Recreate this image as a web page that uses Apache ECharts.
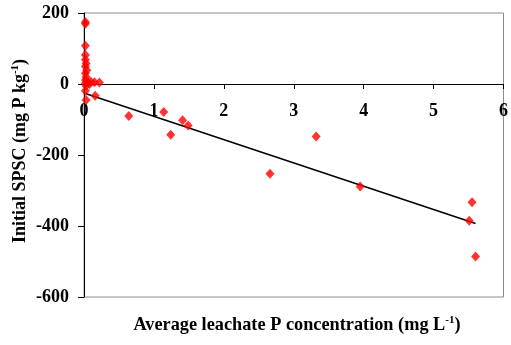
<!DOCTYPE html>
<html><head><meta charset="utf-8">
<script src="https://cdn.jsdelivr.net/npm/echarts@6/dist/echarts.min.js"></script>
<style>html,body{margin:0;padding:0;background:#fff}#c{width:511px;height:345px}</style>
</head><body><div id="c"></div>
<script>
// Observations: average leachate P (mg/L) vs initial SPSC (mg P/kg)
const leachateP = [0.02,0.02,0.02,0.02,0.02,0.03,0.02,0.04,0.02,0.03,0.02,0.05,0.10,0.15,0.22,0.02,0.03,0.02,0.16,0.03,0.08,
                   0.64,1.14,1.24,1.41,1.49,2.66,3.32,3.95,5.55,5.51,5.60];
const initialSPSC = [175,170,108,82,68,58,49,39,30,20,11,6,6,5,4,2,-5,-19,-33,-45,0,
                   -90,-79,-143,-102,-117,-253,-148,-289,-333,-385,-486];
// Fitted trend line end points
const trendX = [0.02, 5.60];
const trendY = [-27, -393];
const xTicks = [0,1,2,3,4,5,6];
const yTicks = [-600,-400,-200,0,200];

const FONT = '"Liberation Serif","Times New Roman",serif';
const GRID = {left:84,right:2,top:13,bottom:48};
const H = 345;
const plotH = H - GRID.top - GRID.bottom;
const yMin = yTicks[0], yMax = yTicks[yTicks.length-1];
// place x axis on the y=0 line
const zeroOffset = -plotH * (0 - yMin) / (yMax - yMin);

const chart = echarts.init(document.getElementById('c'));
chart.setOption({
  animation:false,
  backgroundColor:'#fff',
  grid:Object.assign({show:true,borderColor:'#8c8c8c',borderWidth:1,backgroundColor:'transparent'},GRID),
  xAxis:{type:'value',min:xTicks[0],max:xTicks[xTicks.length-1],interval:1,position:'bottom',offset:zeroOffset,
    axisLine:{onZero:false,lineStyle:{color:'#000',width:1}},
    axisTick:{show:true,inside:false,length:5,lineStyle:{color:'#000'}},
    splitLine:{show:false},
    axisLabel:{margin:18,color:'#000',fontFamily:FONT,fontWeight:'bold',fontSize:18}},
  yAxis:{type:'value',min:yMin,max:yMax,interval:200,
    axisLine:{onZero:false,lineStyle:{color:'#000',width:1}},
    axisTick:{show:true,inside:false,length:6,lineStyle:{color:'#000'}},
    splitLine:{show:false},
    axisLabel:{margin:15,color:'#000',fontFamily:FONT,fontWeight:'bold',fontSize:18}},
  graphic:[
    {type:'text',x:297,y:325,style:{
      text:'Average leachate P concentration (mg L{sup|-1})',
      fill:'#000',font:'bold 18.3px '+FONT,align:'center',verticalAlign:'middle',
      rich:{sup:{fontSize:11,fontFamily:FONT,fontWeight:'bold',fill:'#000',verticalAlign:'top',padding:[0,0,9,0]}}}},
    {type:'text',x:20,y:151,rotation:Math.PI/2,style:{
      text:'Initial SPSC (mg P kg{sup|-1})',
      fill:'#000',font:'bold 18px '+FONT,align:'center',verticalAlign:'middle',
      rich:{sup:{fontSize:11,fontFamily:FONT,fontWeight:'bold',fill:'#000',verticalAlign:'top',padding:[0,0,9,0]}}}}
  ],
  series:[
    {type:'line',data:trendX.map((x,i)=>[x,trendY[i]]),showSymbol:false,symbol:'none',
     lineStyle:{color:'#000',width:1.5},z:2},
    {type:'scatter',data:leachateP.map((x,i)=>[x,initialSPSC[i]]),symbol:'diamond',symbolSize:[9,10],
     itemStyle:{color:'#ff0000'},z:3}
  ]
});
</script></body></html>
